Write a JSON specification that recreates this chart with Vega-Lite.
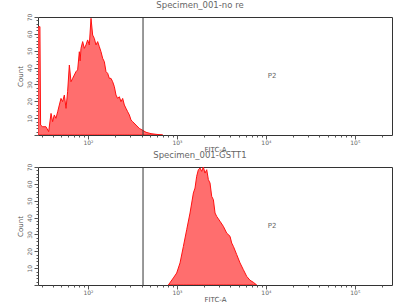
{
  "$schema": "https://vega.github.io/schema/vega-lite/v6.json",
  "padding": {"left": 15, "top": 0, "right": 7, "bottom": 0},
  "spacing": 32,
  "bounds": "flush",
  "background": "white",
  "config": {
    "font": "DejaVu Sans",
    "view": {"stroke": "#333333", "strokeWidth": 1},
    "axis": {"domain": false, "grid": false, "tickColor": "#555555", "labelColor": "#666666", "titleColor": "#555555", "titleFontWeight": "normal", "labelFont": "DejaVu Sans", "titleFont": "DejaVu Sans", "labelOverlap": false},
    "axisX": {"titleFontSize": 7, "titlePadding": 0, "labelFontSize": 6, "labelPadding": 0},
    "axisY": {"titleFontSize": 7, "titlePadding": 3, "labelFontSize": 6, "labelPadding": 2, "labelAngle": 270},
    "title": {"font": "DejaVu Sans", "fontSize": 8.5, "fontWeight": "normal", "color": "#666666", "offset": 0, "dx": -15, "frame": "group"}
  },
  "datasets": {
    "norm": [
      {"x": 27.4, "count": 64}, {"x": 28.8, "count": 64.3}, {"x": 29.3, "count": 5.9}, {"x": 30.9, "count": 4.9},
      {"x": 33.7, "count": 4.9}, {"x": 36.1, "count": 2.0}, {"x": 38.4, "count": 12.8}, {"x": 40.0, "count": 7.9},
      {"x": 41.8, "count": 11.9}, {"x": 43.6, "count": 9.9}, {"x": 45.6, "count": 13.8}, {"x": 47.6, "count": 17.8},
      {"x": 49.7, "count": 21.7}, {"x": 51.8, "count": 19.8}, {"x": 54.2, "count": 23.7}, {"x": 56.6, "count": 15.8},
      {"x": 59.0, "count": 25.7}, {"x": 61.7, "count": 41.5}, {"x": 64.4, "count": 31.6}, {"x": 67.2, "count": 33.6},
      {"x": 70.2, "count": 35.6}, {"x": 73.3, "count": 37.6}, {"x": 76.5, "count": 38.6}, {"x": 79.9, "count": 49.4},
      {"x": 81.6, "count": 44.0}, {"x": 83.4, "count": 51.4}, {"x": 87.1, "count": 55.4}, {"x": 90.9, "count": 51.4},
      {"x": 94.9, "count": 53.4}, {"x": 99.1, "count": 56.4}, {"x": 103.5, "count": 53.4}, {"x": 108.1, "count": 69.2},
      {"x": 112.8, "count": 59.3}, {"x": 117.8, "count": 57.3}, {"x": 123.0, "count": 53.4}, {"x": 128.4, "count": 55.4},
      {"x": 134.1, "count": 52.4}, {"x": 140.0, "count": 49.4}, {"x": 146.2, "count": 45.5}, {"x": 152.6, "count": 43.5},
      {"x": 159.4, "count": 37.6}, {"x": 166.4, "count": 36.6}, {"x": 173.8, "count": 33.6}, {"x": 181.4, "count": 33.6},
      {"x": 189.4, "count": 31.6}, {"x": 197.8, "count": 28.7}, {"x": 206.5, "count": 23.7}, {"x": 215.6, "count": 21.7},
      {"x": 225.1, "count": 22.7}, {"x": 235.0, "count": 19.8}, {"x": 245.4, "count": 21.7}, {"x": 256.3, "count": 17.8},
      {"x": 267.6, "count": 15.8}, {"x": 279.4, "count": 13.8}, {"x": 291.7, "count": 11.9}, {"x": 304.6, "count": 8.9},
      {"x": 318.1, "count": 7.9}, {"x": 346.7, "count": 5.9}, {"x": 377.8, "count": 3.9}, {"x": 405.2, "count": 3.0},
      {"x": 449.4, "count": 1.6}, {"x": 511.2, "count": 0.8}, {"x": 582, "count": 0.4}, {"x": 692, "count": 0}
    ],
    "gstt1": [
      {"x": 801, "count": 0}, {"x": 912, "count": 4.2}, {"x": 994, "count": 7.1}, {"x": 1084, "count": 13.1},
      {"x": 1182, "count": 22.9}, {"x": 1288, "count": 32.8}, {"x": 1404, "count": 42.7}, {"x": 1531, "count": 54.6},
      {"x": 1598, "count": 57.5}, {"x": 1668, "count": 64.5}, {"x": 1742, "count": 68.4}, {"x": 1820, "count": 69.4},
      {"x": 1899, "count": 67.4}, {"x": 1982, "count": 70}, {"x": 2070, "count": 66.4}, {"x": 2163, "count": 68.4},
      {"x": 2257, "count": 62.5}, {"x": 2355, "count": 60.5}, {"x": 2460, "count": 52.6}, {"x": 2570, "count": 50.6},
      {"x": 2683, "count": 42.7}, {"x": 2800, "count": 40.7}, {"x": 3051, "count": 37.8}, {"x": 3327, "count": 34.8},
      {"x": 3627, "count": 30.8}, {"x": 3954, "count": 28.9}, {"x": 4130, "count": 24.9}, {"x": 4315, "count": 22.9},
      {"x": 4704, "count": 18.0}, {"x": 5123, "count": 13.1}, {"x": 5585, "count": 9.1}, {"x": 6095, "count": 5.1},
      {"x": 6637, "count": 2.8}, {"x": 7236, "count": 1.6}, {"x": 7889, "count": 0}
    ],
    "gate": [{"x": 415.6, "count": 35, "label": "P2", "lx": 11740}]
  },
  "vconcat": [
    {
      "width": 354,
      "height": 118,
      "title": {"text": "Specimen_001-no re"},
      "layer": [
        {
          "data": {"name": "norm"},
          "mark": {"type": "area", "color": "#ff6e6e", "stroke": "#ff1111", "strokeWidth": 1, "clip": true, "interpolate": "linear"},
          "encoding": {
            "x": {"field": "x", "type": "quantitative", "scale": {"type": "log", "domain": [27.4, 262144], "nice": false},
              "axis": {"title": "FITC-A", "values": [30,40,50,60,70,80,90,100,200,300,400,500,600,700,800,900,1000,2000,3000,4000,5000,6000,7000,8000,9000,10000,20000,30000,40000,50000,60000,70000,80000,90000,100000,200000],
                "labelExpr": "datum.value==100?'10²':datum.value==1000?'10³':datum.value==10000?'10⁴':datum.value==100000?'10⁵':''",
                "tickSize": {"condition": {"test": "indexof([100,1000,10000,100000], datum.value) >= 0", "value": 4}, "value": 2}}},
            "y": {"field": "count", "type": "quantitative", "scale": {"domain": [0, 70], "nice": false},
              "axis": {"title": "Count", "values": [0,2,4,6,8,10,12,14,16,18,20,22,24,26,28,30,32,34,36,38,40,42,44,46,48,50,52,54,56,58,60,62,64,66,68,70],
                "labelExpr": "(datum.value>0 && datum.value%10==0) ? ('' + datum.value) : ''",
                "tickSize": {"condition": {"test": "datum.value%10==0", "value": 4}, "value": 2}}}
          }
        },
        {
          "data": {"name": "gate"},
          "mark": {"type": "rule", "color": "#333333", "strokeWidth": 1},
          "encoding": {
            "x": {"field": "x", "type": "quantitative",
              "axis": {"title": "FITC-A", "values": [30,40,50,60,70,80,90,100,200,300,400,500,600,700,800,900,1000,2000,3000,4000,5000,6000,7000,8000,9000,10000,20000,30000,40000,50000,60000,70000,80000,90000,100000,200000],
                "labelExpr": "datum.value==100?'10²':datum.value==1000?'10³':datum.value==10000?'10⁴':datum.value==100000?'10⁵':''",
                "tickSize": {"condition": {"test": "indexof([100,1000,10000,100000], datum.value) >= 0", "value": 4}, "value": 2}}}
          }
        },
        {
          "data": {"name": "gate"},
          "mark": {"type": "text", "fontSize": 7, "color": "#666666"},
          "encoding": {
            "x": {"field": "lx", "type": "quantitative",
              "axis": {"title": "FITC-A", "values": [30,40,50,60,70,80,90,100,200,300,400,500,600,700,800,900,1000,2000,3000,4000,5000,6000,7000,8000,9000,10000,20000,30000,40000,50000,60000,70000,80000,90000,100000,200000],
                "labelExpr": "datum.value==100?'10²':datum.value==1000?'10³':datum.value==10000?'10⁴':datum.value==100000?'10⁵':''",
                "tickSize": {"condition": {"test": "indexof([100,1000,10000,100000], datum.value) >= 0", "value": 4}, "value": 2}}},
            "y": {"field": "count", "type": "quantitative",
              "axis": {"title": "Count", "values": [0,2,4,6,8,10,12,14,16,18,20,22,24,26,28,30,32,34,36,38,40,42,44,46,48,50,52,54,56,58,60,62,64,66,68,70],
                "labelExpr": "(datum.value>0 && datum.value%10==0) ? ('' + datum.value) : ''",
                "tickSize": {"condition": {"test": "datum.value%10==0", "value": 4}, "value": 2}}},
            "text": {"field": "label"}
          }
        }
      ]
    },
    {
      "width": 354,
      "height": 118,
      "title": {"text": "Specimen_001-GSTT1"},
      "layer": [
        {
          "data": {"name": "gstt1"},
          "mark": {"type": "area", "color": "#ff6e6e", "stroke": "#ff1111", "strokeWidth": 1, "clip": true, "interpolate": "linear"},
          "encoding": {
            "x": {"field": "x", "type": "quantitative", "scale": {"type": "log", "domain": [27.4, 262144], "nice": false},
              "axis": {"title": "FITC-A", "values": [30,40,50,60,70,80,90,100,200,300,400,500,600,700,800,900,1000,2000,3000,4000,5000,6000,7000,8000,9000,10000,20000,30000,40000,50000,60000,70000,80000,90000,100000,200000],
                "labelExpr": "datum.value==100?'10²':datum.value==1000?'10³':datum.value==10000?'10⁴':datum.value==100000?'10⁵':''",
                "tickSize": {"condition": {"test": "indexof([100,1000,10000,100000], datum.value) >= 0", "value": 4}, "value": 2}}},
            "y": {"field": "count", "type": "quantitative", "scale": {"domain": [0, 70], "nice": false},
              "axis": {"title": "Count", "values": [0,2,4,6,8,10,12,14,16,18,20,22,24,26,28,30,32,34,36,38,40,42,44,46,48,50,52,54,56,58,60,62,64,66,68,70],
                "labelExpr": "(datum.value>0 && datum.value%10==0) ? ('' + datum.value) : ''",
                "tickSize": {"condition": {"test": "datum.value%10==0", "value": 4}, "value": 2}}}
          }
        },
        {
          "data": {"name": "gate"},
          "mark": {"type": "rule", "color": "#333333", "strokeWidth": 1},
          "encoding": {
            "x": {"field": "x", "type": "quantitative",
              "axis": {"title": "FITC-A", "values": [30,40,50,60,70,80,90,100,200,300,400,500,600,700,800,900,1000,2000,3000,4000,5000,6000,7000,8000,9000,10000,20000,30000,40000,50000,60000,70000,80000,90000,100000,200000],
                "labelExpr": "datum.value==100?'10²':datum.value==1000?'10³':datum.value==10000?'10⁴':datum.value==100000?'10⁵':''",
                "tickSize": {"condition": {"test": "indexof([100,1000,10000,100000], datum.value) >= 0", "value": 4}, "value": 2}}}
          }
        },
        {
          "data": {"name": "gate"},
          "mark": {"type": "text", "fontSize": 7, "color": "#666666"},
          "encoding": {
            "x": {"field": "lx", "type": "quantitative",
              "axis": {"title": "FITC-A", "values": [30,40,50,60,70,80,90,100,200,300,400,500,600,700,800,900,1000,2000,3000,4000,5000,6000,7000,8000,9000,10000,20000,30000,40000,50000,60000,70000,80000,90000,100000,200000],
                "labelExpr": "datum.value==100?'10²':datum.value==1000?'10³':datum.value==10000?'10⁴':datum.value==100000?'10⁵':''",
                "tickSize": {"condition": {"test": "indexof([100,1000,10000,100000], datum.value) >= 0", "value": 4}, "value": 2}}},
            "y": {"field": "count", "type": "quantitative",
              "axis": {"title": "Count", "values": [0,2,4,6,8,10,12,14,16,18,20,22,24,26,28,30,32,34,36,38,40,42,44,46,48,50,52,54,56,58,60,62,64,66,68,70],
                "labelExpr": "(datum.value>0 && datum.value%10==0) ? ('' + datum.value) : ''",
                "tickSize": {"condition": {"test": "datum.value%10==0", "value": 4}, "value": 2}}},
            "text": {"field": "label"}
          }
        }
      ]
    }
  ]
}
